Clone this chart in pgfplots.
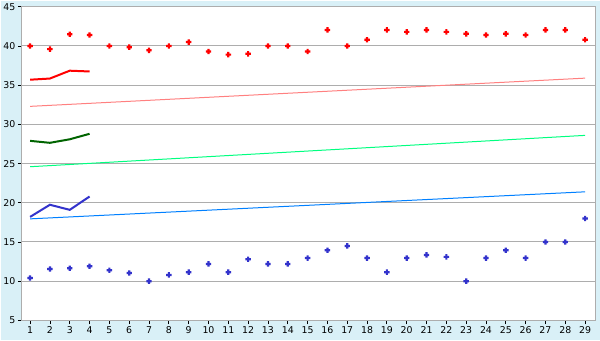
\documentclass[border=0pt]{standalone}
\usepackage{fontspec}
\setmainfont{DejaVu Sans}
\usepackage{pgfplots}
\pgfplotsset{compat=1.18}
\definecolor{bgblue}{HTML}{D9F0F7}
\definecolor{gridgray}{HTML}{ADADAD}
\definecolor{ptred}{HTML}{FF0000}
\definecolor{trendpink}{HTML}{FF8080}
\definecolor{darkgreen}{HTML}{006400}
\definecolor{trendgreen}{HTML}{00FF80}
\definecolor{ptblue}{HTML}{3333CC}
\definecolor{trendblue}{HTML}{0080FF}
\pgfdeclareplotmark{chunkyplus}{%
  \pgfpathmoveto{\pgfpoint{-1.1bp}{2.7bp}}%
  \pgfpathlineto{\pgfpoint{1.1bp}{2.7bp}}%
  \pgfpathlineto{\pgfpoint{1.1bp}{1.1bp}}%
  \pgfpathlineto{\pgfpoint{2.7bp}{1.1bp}}%
  \pgfpathlineto{\pgfpoint{2.7bp}{-1.1bp}}%
  \pgfpathlineto{\pgfpoint{1.1bp}{-1.1bp}}%
  \pgfpathlineto{\pgfpoint{1.1bp}{-2.7bp}}%
  \pgfpathlineto{\pgfpoint{-1.1bp}{-2.7bp}}%
  \pgfpathlineto{\pgfpoint{-1.1bp}{-1.1bp}}%
  \pgfpathlineto{\pgfpoint{-2.7bp}{-1.1bp}}%
  \pgfpathlineto{\pgfpoint{-2.7bp}{1.1bp}}%
  \pgfpathlineto{\pgfpoint{-1.1bp}{1.1bp}}%
  \pgfpathclose
  \pgfusepathqfill}
\begin{document}
\begin{tikzpicture}
\fill[bgblue] (0,0) rectangle (600bp,340bp);
\begin{axis}[
  at={(21bp,20bp)}, anchor=south west,
  scale only axis, width=574bp, height=314bp,
  xmin=0.58, xmax=29.5, ymin=5, ymax=45,
  xtick={1,...,29}, ytick={5,10,...,45},
  axis background/.style={fill=white},
  axis line style={gridgray, line width=1bp},
  ymajorgrids, major grid style={gridgray, line width=1bp},
  tick style={black, line width=0.8bp},
  xtick pos=bottom, ytick pos=left,
  tick align=outside, major tick length=4bp,
  ticklabel style={font=\fontsize{9.4bp}{11bp}\selectfont},
  /pgf/number format/assume math mode=true,
  xticklabel style={yshift=1bp},
  yticklabel style={xshift=1bp},
  clip=false,
]
% trend lines
\addplot[trendpink, line width=1bp] coordinates {(1,32.3) (29,35.9)};
\addplot[trendgreen, line width=1bp] coordinates {(1,24.6) (29,28.6)};
\addplot[trendblue, line width=1bp] coordinates {(1,17.95) (29,21.4)};
% thick short lines
\addplot[ptred, line width=2bp] coordinates {(1,35.7) (2,35.85) (3,36.85) (4,36.75)};
\addplot[darkgreen, line width=2bp] coordinates {(1,27.9) (2,27.65) (3,28.1) (4,28.8)};
\addplot[ptblue, line width=2bp] coordinates {(1,18.2) (2,19.75) (3,19.1) (4,20.8)};
% red points
\addplot[only marks, ptred, mark=chunkyplus] coordinates {
(1,40.0) (2,39.6) (3,41.5) (4,41.4) (5,40.0) (6,39.85) (7,39.45) (8,40.0) (9,40.5)
(10,39.3) (11,38.9) (12,39.0) (13,40.0) (14,40.0) (15,39.3) (16,42.05) (17,40.0) (18,40.8) (19,42.05)
(20,41.8) (21,42.05) (22,41.8) (23,41.55) (24,41.4) (25,41.55) (26,41.4) (27,42.05) (28,42.05) (29,40.8)};
% blue points
\addplot[only marks, ptblue, mark=chunkyplus] coordinates {
(1,10.4) (2,11.55) (3,11.65) (4,11.9) (5,11.4) (6,11.05) (7,10.0) (8,10.8) (9,11.15)
(10,12.2) (11,11.15) (12,12.8) (13,12.2) (14,12.2) (15,12.95) (16,13.95) (17,14.5) (18,12.95) (19,11.15)
(20,12.95) (21,13.35) (22,13.1) (23,10.0) (24,12.95) (25,13.95) (26,12.95) (27,15.0) (28,15.0) (29,18.0)};
\end{axis}
\end{tikzpicture}
\end{document}
